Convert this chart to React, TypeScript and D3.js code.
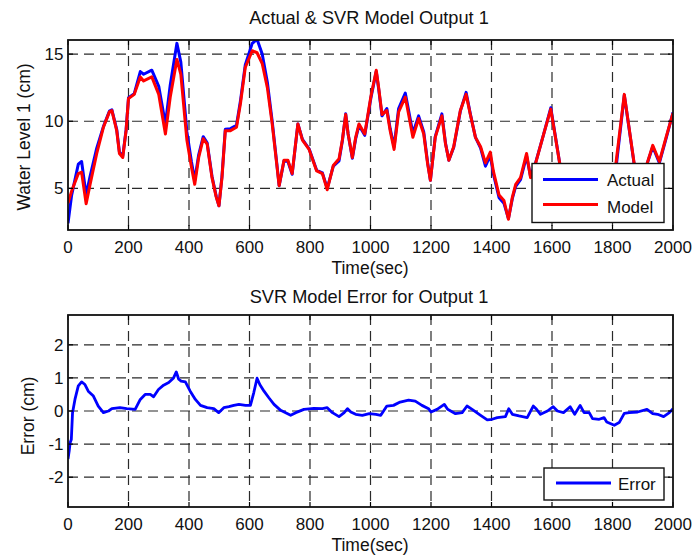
import React from "react";
import * as d3 from "d3";

// ---------- data ----------
const timeSec = [
  0, 12, 34, 45, 60, 73, 95, 117, 137, 145, 161, 170, 181, 192, 200, 219, 239, 250, 277, 300,
  322, 338, 360, 373, 393, 408, 419, 432, 447, 460, 476, 490, 499, 509, 520, 537, 557, 570, 586, 609,
  625, 642, 659, 675, 690, 698, 714, 727, 741, 760, 775, 797, 822, 841, 857, 877, 896, 907, 918, 926,
  940, 951, 962, 981, 1001, 1019, 1027, 1038, 1054, 1065, 1078, 1093, 1115, 1126, 1140, 1159, 1176, 1189, 1198, 1214,
  1236, 1248, 1259, 1275, 1297, 1316, 1330, 1347, 1364, 1380, 1396, 1406, 1425, 1441, 1456, 1469, 1480, 1496, 1516, 1529,
  1545, 1572, 1596, 1626, 1650, 1680, 1710, 1740, 1780, 1811, 1839, 1872, 1900, 1933, 1955, 1977, 2000,
];
const modelLevel = [
  3.9, 4.8, 6.1, 6.2, 3.85, 5.3, 7.6, 9.55, 10.7, 10.8, 9.3, 7.6, 7.3, 9.3, 11.7, 12.0, 13.3, 13.0, 13.3, 12.0,
  9.05, 11.8, 14.6, 13.5, 8.6, 6.6, 5.3, 7.3, 8.7, 8.3, 5.8, 4.35, 3.7, 5.8, 9.3, 9.3, 9.55, 11.3, 14.0, 15.25,
  15.1, 14.3, 12.5, 9.8, 6.8, 5.2, 7.1, 7.1, 6.1, 9.8, 8.6, 7.9, 6.3, 6.1, 4.9, 6.7, 7.2, 8.6, 10.5, 9.05,
  7.3, 8.8, 9.8, 9.05, 11.8, 13.8, 12.5, 10.5, 10.8, 9.3, 7.9, 10.7, 11.8, 10.5, 8.8, 10.2, 9.05, 6.8, 5.6, 8.8,
  10.4, 8.3, 7.1, 8.1, 10.8, 12.0, 10.5, 8.8, 8.1, 6.9, 7.7, 6.3, 4.5, 4.1, 2.7, 4.35, 5.3, 5.8, 7.6, 5.8,
  6.8, 9.0, 10.9, 6.8, 5.2, 4.5, 5.5, 4.8, 5.6, 6.8, 12.0, 6.8, 5.8, 8.2, 7.0, 8.8, 10.6,
];
const actualLevel = [
  2.4, 4.5, 6.8, 7.0, 4.5, 5.9, 8.0, 9.6, 10.75, 10.85, 9.4, 7.7, 7.4, 9.35, 11.75, 12.05, 13.7, 13.5, 13.8, 12.6,
  9.8, 12.7, 15.8, 14.4, 9.2, 7.0, 5.6, 7.5, 8.85, 8.4, 5.9, 4.4, 3.7, 5.9, 9.4, 9.45, 9.7, 11.5, 14.2, 15.8,
  16.1, 15.0, 12.9, 10.0, 6.9, 5.2, 7.05, 7.0, 6.05, 9.8, 8.65, 7.95, 6.35, 6.15, 5.0, 6.65, 7.05, 8.55, 10.55, 9.05,
  7.25, 8.7, 9.7, 8.95, 11.7, 13.7, 12.4, 10.4, 10.95, 9.45, 8.1, 10.95, 12.1, 10.8, 9.1, 10.4, 9.2, 6.9, 5.6, 8.85,
  10.55, 8.35, 7.1, 8.05, 10.75, 12.15, 10.55, 8.8, 8.0, 6.65, 7.45, 6.1, 4.3, 3.9, 2.75, 4.25, 5.15, 5.65, 7.4, 5.9,
  6.85, 9.0, 11.0, 6.8, 5.3, 4.6, 5.5, 4.6, 5.3, 6.4, 11.95, 6.75, 5.85, 8.1, 6.9, 8.7, 10.65,
];

const errTime = [
  0, 4, 7, 11, 15, 23, 34, 45, 56, 67, 84, 100, 117, 134, 145, 172, 194, 222, 239, 255,
  272, 283, 299, 316, 333, 349, 358, 366, 374, 388, 404, 421, 438, 460, 482, 498, 515, 532, 548, 565,
  587, 603, 614, 625, 634, 648, 664, 681, 703, 736, 753, 780, 813, 841, 857, 874, 896, 913, 924, 935,
  951, 973, 996, 1018, 1034, 1054, 1076, 1098, 1126, 1148, 1170, 1192, 1200, 1220, 1244, 1255, 1281, 1303, 1319, 1336,
  1364, 1386, 1402, 1419, 1446, 1457, 1469, 1491, 1518, 1538, 1549, 1562, 1585, 1604, 1618, 1638, 1660, 1675, 1693, 1706,
  1723, 1734, 1756, 1772, 1781, 1806, 1822, 1839, 1855, 1883, 1914, 1933, 1949, 1969, 1988, 2000,
];
const errValue = [
  -1.45, -1.2, -0.96, -0.86, -0.05, 0.35, 0.76, 0.88, 0.8, 0.6, 0.45, 0.15, -0.05, 0, 0.07, 0.1, 0.07, 0.05, 0.35, 0.5,
  0.5, 0.43, 0.65, 0.78, 0.86, 1.0, 1.18, 0.96, 0.9, 0.88, 0.6, 0.35, 0.17, 0.1, 0.07, -0.05, 0.1, 0.13, 0.17, 0.2,
  0.17, 0.17, 0.55, 0.99, 0.8, 0.6, 0.4, 0.2, 0.02, -0.13, -0.05, 0.05, 0.08, 0.07, 0.1, -0.05, -0.17, -0.05, 0.07, -0.03,
  -0.1, -0.13, -0.08, -0.1, -0.13, 0.15, 0.17, 0.27, 0.33, 0.3, 0.17, 0.07, -0.03, 0.05, 0.2, 0.05, -0.08, -0.05, 0.15, 0.05,
  -0.13, -0.27, -0.25, -0.2, -0.17, 0.07, -0.1, -0.15, -0.2, 0.15, 0.05, -0.1, 0, 0.13, 0, -0.05, 0.13, -0.1, 0.17, -0.05,
  -0.05, -0.23, -0.25, -0.2, -0.33, -0.43, -0.35, -0.07, -0.05, -0.03, 0.05, -0.08, -0.1, -0.17, -0.05, 0.07,
];

const xTicks = [0, 200, 400, 600, 800, 1000, 1200, 1400, 1600, 1800, 2000];
const topYTicks = [5, 10, 15];
const botYTicks = [-2, -1, 0, 1, 2];

const topTitle = "Actual & SVR Model Output 1";
const botTitle = "SVR Model Error for Output 1";
const xLabel = "Time(sec)";
const topYLabel = "Water Level 1 (cm)";
const botYLabel = "Error (cm)";

// ---------- layout ----------
const W = 692;
const H = 558;
const FONT = "'Liberation Sans', Arial, Helvetica, sans-serif";
const LEFT = 68;
const RIGHT = 673;
const TOP1 = 40;
const BOT1 = 230;
const TOP2 = 315;
const BOT2 = 507;
const GRID = "#2a2a2a";
const DASH = "10,6";
const TICK = 5;

const x = d3.scaleLinear().domain([0, 2000]).range([LEFT, RIGHT]);
const y1 = d3.scaleLinear().domain([1.9, 16.05]).range([BOT1, TOP1]);
const y2 = d3.scaleLinear().domain([-2.9, 2.9]).range([BOT2, TOP2]);

type YS = d3.ScaleLinear<number, number>;

function Frame({ ys, top, bottom, yTicks, clipId, children }: { ys: YS; top: number; bottom: number; yTicks: number[]; clipId: string; children?: React.ReactNode }) {
  return (
    <g>
      <defs>
        <clipPath id={clipId}>
          <rect x={LEFT} y={top} width={RIGHT - LEFT} height={bottom - top} />
        </clipPath>
      </defs>
      <rect x={LEFT} y={top} width={RIGHT - LEFT} height={bottom - top} fill="#fff" />
      {xTicks.slice(1, -1).map((t) => (
        <line key={"gx" + t} x1={x(t)} x2={x(t)} y1={top} y2={bottom} stroke={GRID} strokeWidth={1.2} strokeDasharray={DASH} />
      ))}
      {yTicks.map((t) => (
        <line key={"gy" + t} x1={LEFT} x2={RIGHT} y1={ys(t)} y2={ys(t)} stroke={GRID} strokeWidth={1.2} strokeDasharray={DASH} />
      ))}
      <g clipPath={`url(#${clipId})`}>{children}</g>
    </g>
  );
}

function Axes({ ys, top, bottom, yTicks }: { ys: YS; top: number; bottom: number; yTicks: number[] }) {
  return (
    <g>
      {xTicks.map((t) => (
        <g key={"tx" + t}>
          <line x1={x(t)} x2={x(t)} y1={bottom} y2={bottom - TICK} stroke="#000" strokeWidth={1.2} />
          <line x1={x(t)} x2={x(t)} y1={top} y2={top + TICK} stroke="#000" strokeWidth={1.2} />
          <text x={x(t)} y={bottom + 22.5} fontSize={17} textAnchor="middle" fontFamily={FONT} fill="#111">
            {t}
          </text>
        </g>
      ))}
      {yTicks.map((t) => (
        <g key={"ty" + t}>
          <line x1={LEFT} x2={LEFT + TICK} y1={ys(t)} y2={ys(t)} stroke="#000" strokeWidth={1.2} />
          <line x1={RIGHT} x2={RIGHT - TICK} y1={ys(t)} y2={ys(t)} stroke="#000" strokeWidth={1.2} />
          <text x={LEFT - 4.5} y={ys(t)} dy="0.36em" fontSize={17} textAnchor="end" fontFamily={FONT} fill="#111">
            {t}
          </text>
        </g>
      ))}
      <rect x={LEFT} y={top} width={RIGHT - LEFT} height={bottom - top} fill="none" stroke="#111" strokeWidth={1.8} />
    </g>
  );
}

export default function App() {
  const idx = d3.range(timeSec.length);
  const lineTop = (vals: number[]) =>
    d3.line<number>().x((i) => x(timeSec[i])).y((i) => y1(vals[i]))(idx) || "";
  const errIdx = d3.range(errTime.length);
  const errPath = d3.line<number>().x((i) => x(errTime[i])).y((i) => y2(errValue[i]))(errIdx) || "";

  return (
    <svg width={W} height={H} viewBox={`0 0 ${W} ${H}`} style={{ position: "absolute", left: 0, top: 0, background: "#fff" }}>
      <rect x={0} y={0} width={W} height={H} fill="#fff" />

      {/* ---------- top panel ---------- */}
      <text x={369} y={24} fontSize={18.2} textAnchor="middle" fontFamily={FONT} fill="#111">
        {topTitle}
      </text>
      <Frame ys={y1} top={TOP1} bottom={BOT1} yTicks={topYTicks} clipId="c1">
        <path d={lineTop(actualLevel)} fill="none" stroke="#0000ff" strokeWidth={3} strokeLinejoin="round" />
        <path d={lineTop(modelLevel)} fill="none" stroke="#ff0000" strokeWidth={3} strokeLinejoin="round" />
      </Frame>
      <g>
        <rect x={532} y={163.5} width={132} height={59} fill="#fff" stroke="#111" strokeWidth={1.4} />
        <line x1={543} x2={598} y1={179.5} y2={179.5} stroke="#0000ff" strokeWidth={3} />
        <text x={607} y={186} fontSize={17} fontFamily={FONT} fill="#111">Actual</text>
        <line x1={543} x2={598} y1={204.5} y2={204.5} stroke="#ff0000" strokeWidth={3} />
        <text x={607} y={212.5} fontSize={17} fontFamily={FONT} fill="#111">Model</text>
      </g>
      <Axes ys={y1} top={TOP1} bottom={BOT1} yTicks={topYTicks} />
      <text x={370} y={273.5} fontSize={17.5} textAnchor="middle" fontFamily={FONT} fill="#111">
        {xLabel}
      </text>
      <text transform={`translate(29.5,${(TOP1 + BOT1) / 2 + 2}) rotate(-90)`} fontSize={17.5} textAnchor="middle" fontFamily={FONT} fill="#111">
        {topYLabel}
      </text>

      {/* ---------- bottom panel ---------- */}
      <text x={369} y={302.5} fontSize={18.2} textAnchor="middle" fontFamily={FONT} fill="#111">
        {botTitle}
      </text>
      <Frame ys={y2} top={TOP2} bottom={BOT2} yTicks={botYTicks} clipId="c2">
        <path d={errPath} fill="none" stroke="#0000ff" strokeWidth={2.8} strokeLinejoin="round" />
      </Frame>
      <g>
        <rect x={544} y={468} width={120} height={32} fill="#fff" stroke="#111" strokeWidth={1.4} />
        <line x1={556} x2={611} y1={483} y2={483} stroke="#0000ff" strokeWidth={3} />
        <text x={618} y={489.5} fontSize={17} fontFamily={FONT} fill="#111">Error</text>
      </g>
      <Axes ys={y2} top={TOP2} bottom={BOT2} yTicks={botYTicks} />
      <text x={370} y={551} fontSize={17.5} textAnchor="middle" fontFamily={FONT} fill="#111">
        {xLabel}
      </text>
      <text transform={`translate(34,${(TOP2 + BOT2) / 2 + 5}) rotate(-90)`} fontSize={17.5} textAnchor="middle" fontFamily={FONT} fill="#111">
        {botYLabel}
      </text>
    </svg>
  );
}
